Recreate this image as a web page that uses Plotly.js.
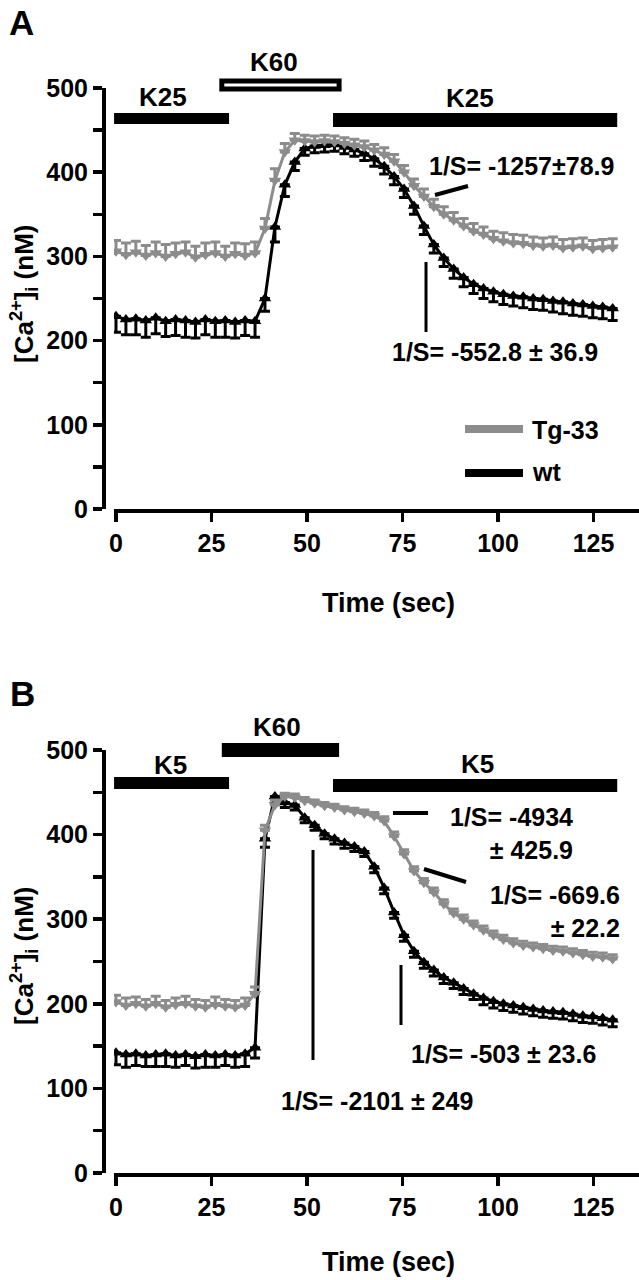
<!DOCTYPE html>
<html>
<head>
<meta charset="utf-8">
<script src="https://cdn.plot.ly/plotly-3.0.1.min.js"></script>
<style>
  html, body { margin: 0; padding: 0; background: #fff; }
  #chart { width: 639px; height: 1280px; }
</style>
</head>
<body>
<div id="chart"></div>
<script>
// sampling times (sec)
const time = [0, 2.6, 5.2, 7.8, 10.4, 13, 15.6, 18.2, 20.8, 23.4, 26, 28.6, 31.2, 33.8, 36.4,
  39, 41.6, 44.2, 46.8, 49.4, 52, 54.6, 57.2, 59.8, 62.4, 65, 67.6, 70.2, 72.8, 75.4, 78,
  80.6, 83.2, 85.8, 88.4, 91, 93.6, 96.2, 98.8, 101.4, 104, 106.6, 109.2, 111.8, 114.4,
  117, 119.6, 122.2, 124.8, 127.4, 130];

// Panel A: K25 -> K60 -> K25
const aTg = [306, 302, 305, 301, 304, 300, 303, 305, 299, 302, 304, 300, 303, 301, 304,
  333, 390, 424, 438, 437, 436, 437, 436, 434, 432, 430, 426, 421, 413, 400, 384,
  371, 359, 350, 343, 336, 330, 326, 321, 318, 316, 315, 313, 312, 313,
  310, 311, 312, 309, 310, 311];
const aTgErr = [13, 14, 13, 12, 13, 14, 13, 12, 13, 14, 13, 12, 13, 14, 13,
  12, 14, 10, 8, 7, 7, 7, 7, 7, 7, 7, 7, 8, 8, 8, 8, 9, 9, 9, 9, 9, 9, 9, 9,
  10, 10, 10, 10, 10, 10, 10, 10, 10, 10, 10, 10];
const aWt = [229, 225, 226, 224, 227, 223, 225, 224, 222, 225, 223, 224, 222, 224, 223,
  250, 335, 385, 412, 428, 431, 432, 433, 430, 427, 422, 416, 407, 395, 380, 360,
  336, 314, 298, 285, 275, 267, 262, 258, 255, 253, 252, 250, 249, 247,
  246, 244, 243, 241, 240, 238];
const aWtErr = [19, 18, 19, 20, 19, 18, 19, 20, 19, 18, 19, 20, 19, 18, 19,
  15, 18, 14, 10, 8, 8, 8, 8, 8, 8, 8, 9, 9, 10, 10, 10, 10, 10, 10, 11, 11, 11,
  12, 12, 12, 12, 13, 13, 13, 13, 14, 14, 14, 14, 14, 14];

// Panel B: K5 -> K60 -> K5
const bTg = [202, 198, 200, 197, 200, 196, 199, 200, 197, 196, 199, 197, 196, 198, 212,
  405, 435, 445, 444, 440, 437, 434, 432, 429, 427, 425, 422, 416, 398, 377, 357,
  343, 332, 318, 307, 300, 293, 287, 281, 276, 272, 269, 267, 265, 263,
  262, 260, 258, 256, 255, 253];
const bTgErr = [8, 9, 8, 8, 9, 8, 8, 9, 8, 8, 9, 8, 8, 9, 8,
  6, 6, 4, 4, 4, 4, 4, 4, 4, 4, 4, 4, 5, 5, 5, 5, 5, 5, 5, 5, 5, 5, 5, 5,
  5, 5, 5, 5, 5, 5, 5, 5, 5, 5, 5, 5];
const bWt = [142, 140, 141, 139, 140, 141, 139, 140, 138, 140, 139, 140, 139, 141, 148,
  395, 445, 438, 435, 420, 411, 401, 395, 390, 386, 380, 362, 337, 308, 281, 262,
  249, 240, 231, 225, 218, 212, 207, 203, 200, 198, 196, 194, 192, 191,
  190, 188, 186, 185, 183, 181];
const bWtErr = [14, 15, 14, 13, 14, 15, 14, 13, 14, 15, 14, 13, 14, 15, 12,
  10, 8, 6, 6, 6, 6, 6, 6, 6, 6, 6, 7, 7, 7, 7, 7, 7, 7, 7, 7, 7, 7,
  8, 8, 8, 8, 8, 8, 8, 8, 8, 8, 8, 8, 8, 8];

// stimulus periods (sec)
const stimLabelsA = ['K25', 'K60', 'K25'];
const stimLabelsB = ['K5', 'K60', 'K5'];
const stimStart = [-0.5, 27.7, 56.8];
const stimEnd = [29.6, 58.4, 131.2];

const xTicks = [0, 25, 50, 75, 100, 125];
const yTicks = [0, 100, 200, 300, 400, 500];

const W = 639, H = 1280;
const fx = px => px / W;
const fy = py => 1 - py / H;
const GRAY = '#8c8c8c';
const FONT = 'Liberation Sans, Arial, sans-serif';

function series(x, y, err, color, symbol, up, xa, ya) {
    return {
        x: x, y: y, xaxis: xa, yaxis: ya,
        type: 'scatter', mode: 'lines+markers',
        line: { color: color, width: 3 },
        marker: { symbol: symbol, size: 11, color: color },
        error_y: {
            type: 'data', symmetric: false,
            array: up ? err : err.map(() => 0),
            arrayminus: up ? err.map(() => 0) : err,
            color: color, thickness: 3, width: 5
        },
        hoverinfo: 'skip'
    };
}

const traces = [
    series(time, aWt, aWtErr, '#000', 'triangle-up', false, 'x', 'y'),
    series(time, aTg, aTgErr, GRAY, 'triangle-down', true, 'x', 'y'),
    series(time, bWt, bWtErr, '#000', 'triangle-up', false, 'x2', 'y2'),
    series(time, bTg, bTgErr, GRAY, 'triangle-down', true, 'x2', 'y2')
];

function xAxis(anchor) {
    return {
        domain: [fx(114), 1], range: [-0.52, 136.9], anchor: anchor,
        showline: true, linecolor: '#000', linewidth: 3.5,
        ticks: 'outside', ticklen: 9, tickwidth: 3.5, tickcolor: '#000',
        tickvals: xTicks, tickfont: { family: FONT, size: 25, color: '#000', weight: 'bold' },
        showgrid: false, zeroline: false
    };
}
function yAxis(top, bottom) {
    return {
        domain: [fy(bottom), fy(top)], range: [0, 500], anchor: 'free', position: fx(103),
        showline: true, linecolor: '#000', linewidth: 3.5,
        ticks: 'outside', ticklen: 9, tickwidth: 3.5, tickcolor: '#000',
        tickvals: yTicks,
        minor: { dtick: 50, ticks: 'outside', ticklen: 9, tickwidth: 3.5, tickcolor: '#000', showgrid: false },
        tickfont: { family: FONT, size: 25, color: '#000', weight: 'bold' },
        showgrid: false, zeroline: false
    };
}

function txt(text, x, y, size, extra) {
    return Object.assign({
        text: text, xref: 'paper', yref: 'paper', x: fx(x), y: fy(y),
        showarrow: false, xanchor: 'center', yanchor: 'middle',
        font: { family: FONT, size: size, color: '#000', weight: 'bold' }
    }, extra || {});
}
function seg(x0, y0, x1, y1, w) {
    return { type: 'line', xref: 'paper', yref: 'paper',
        x0: fx(x0), y0: fy(y0), x1: fx(x1), y1: fy(y1),
        line: { color: '#000', width: w || 3 } };
}
function bar(xa, i, top, bottom, open) {
    return { type: 'rect', xref: xa, yref: 'paper',
        x0: stimStart[i], x1: stimEnd[i], y0: fy(bottom), y1: fy(top),
        fillcolor: open ? '#fff' : '#000',
        line: { color: '#000', width: open ? 5 : 0 } };
}

const annotations = [
    txt('A', 21, 22, 35),
    txt('B', 22, 693, 35),
    // panel A
    txt(stimLabelsA[0], 163, 97, 26),
    txt(stimLabelsA[1], 274, 62, 26),
    txt(stimLabelsA[2], 470, 98, 26),
    txt('1/S= -1257±78.9', 521, 166, 25),
    txt('1/S= -552.8 ± 36.9', 495, 352, 25),
    txt('Tg-33', 530, 430, 25, { xanchor: 'left' }),
    txt('wt', 530, 472, 25, { xanchor: 'left' }),
    txt('Time (sec)', 388, 603, 27),
    txt('[Ca<sup>2+</sup>]<sub>i</sub> (nM)', 24, 294, 26, { textangle: -90 }),
    // panel B
    txt(stimLabelsB[0], 170, 765, 26),
    txt(stimLabelsB[1], 277, 727, 26),
    txt(stimLabelsB[2], 477, 764, 26),
    txt('1/S= -4934<br>± 425.9', 575, 833, 25, { xanchor: 'right', align: 'right' }),
    txt('1/S= -669.6<br>± 22.2', 622, 911, 25, { xanchor: 'right', align: 'right' }),
    txt('1/S= -503 ± 23.6', 503, 1054, 25),
    txt('1/S= -2101 ± 249', 377, 1101, 25),
    txt('Time (sec)', 388, 1262, 27),
    txt('[Ca<sup>2+</sup>]<sub>i</sub> (nM)', 24, 956, 26, { textangle: -90 })
];

const shapes = [
    bar('x', 0, 113, 124, false),
    bar('x', 1, 81, 89, true),
    bar('x', 2, 113, 127, false),
    bar('x2', 0, 777, 789, false),
    bar('x2', 1, 743, 757, false),
    bar('x2', 2, 779, 792, false),
    // pointer lines
    seg(435, 195, 468, 186, 4),
    seg(426, 262, 426, 332, 3),
    seg(393, 813, 428, 813, 4),
    seg(424, 869, 466, 882, 4),
    seg(313, 850, 313, 1060, 3),
    seg(401, 965, 401, 1025, 3),
    // legend
    { type: 'line', xref: 'paper', yref: 'paper', x0: fx(465), x1: fx(523), y0: fy(429), y1: fy(429), line: { color: GRAY, width: 8 } },
    { type: 'line', xref: 'paper', yref: 'paper', x0: fx(465), x1: fx(523), y0: fy(473), y1: fy(473), line: { color: '#000', width: 8 } }
];

Plotly.newPlot('chart', traces, {
    width: W, height: H,
    margin: { l: 0, r: 0, t: 0, b: 0 },
    paper_bgcolor: '#fff', plot_bgcolor: '#fff',
    showlegend: false,
    font: { family: FONT, color: '#000' },
    xaxis: xAxis('y'),
    yaxis: yAxis(88, 509),
    xaxis2: xAxis('y2'),
    yaxis2: yAxis(750, 1173),
    annotations: annotations,
    shapes: shapes
}, { staticPlot: true });
</script>
</body>
</html>
